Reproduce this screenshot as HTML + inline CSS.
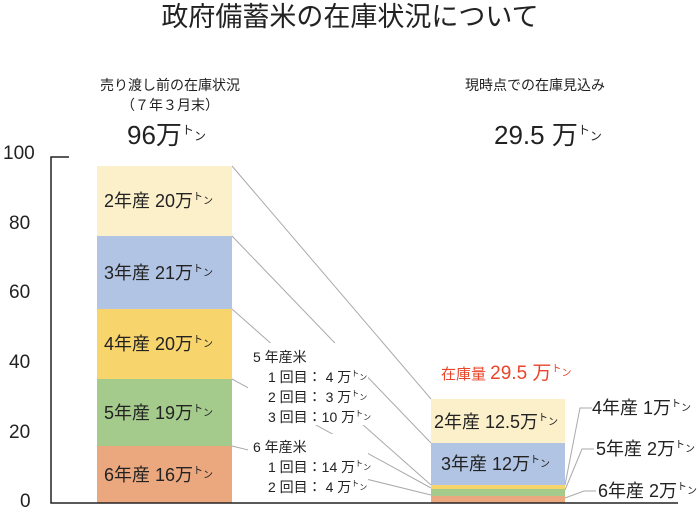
<!DOCTYPE html>
<html><head><meta charset="utf-8"><style>
body{margin:0;background:#fff;}
svg text{font-family:"Liberation Sans","Noto Sans CJK JP",sans-serif;fill:#222;}
</style></head><body>
<svg width="700" height="508" viewBox="0 0 700 508" xmlns="http://www.w3.org/2000/svg">
<text x="350" y="26" font-size="27" text-anchor="middle" fill="#222">政府備蓄米の在庫状況について</text>
<text x="170" y="90" font-size="14" text-anchor="middle">売り渡し前の在庫状況</text>
<text x="170" y="110" font-size="14" text-anchor="middle">（７年３月末）</text>
<text x="127" y="144" font-size="26">96万<tspan font-size="12" dy="-10">ト</tspan><tspan font-size="12" dy="6">ン</tspan></text>
<text x="535" y="90" font-size="14" text-anchor="middle">現時点での在庫見込み</text>
<text x="494" y="144" font-size="26">29.5 万<tspan font-size="12" dy="-10">ト</tspan><tspan font-size="12" dy="6">ン</tspan></text>
<g font-size="19">
<text x="3" y="159">100</text><text x="9" y="229">80</text><text x="9" y="298">60</text><text x="9" y="368">40</text><text x="9" y="438">20</text><text x="20" y="507">0</text>
</g>
<g stroke="#aaa" stroke-width="1">
<line x1="232" y1="166" x2="431" y2="399"/>
<line x1="232" y1="236" x2="431" y2="443"/>
<line x1="232" y1="309" x2="431" y2="485"/>
<line x1="232" y1="379" x2="431" y2="488"/>
<line x1="232" y1="446" x2="431" y2="495"/>
<polyline fill="none" points="565,485 580,408 592,408"/>
<polyline fill="none" points="565,490 582,449 594,449"/>
<polyline fill="none" points="565,498 584,491 596,491"/>
</g>
<rect x="97" y="166" width="135" height="70" fill="#fcf0cb"/>
<rect x="97" y="236" width="135" height="73" fill="#b1c4e3"/>
<rect x="97" y="309" width="135" height="70" fill="#f8d46c"/>
<rect x="97" y="379" width="135" height="67" fill="#a4cb8c"/>
<rect x="97" y="446" width="135" height="57" fill="#eba87f"/>
<rect x="431" y="399" width="134" height="44" fill="#fcf0cb"/>
<rect x="431" y="443" width="134" height="42" fill="#b1c4e3"/>
<rect x="431" y="485" width="134" height="4" fill="#f8d46c"/>
<rect x="431" y="489" width="134" height="7" fill="#a4cb8c"/>
<rect x="431" y="496" width="134" height="7" fill="#eba87f"/>
<polyline fill="none" stroke="#222" stroke-width="1.5" points="69,157 51,157 51,503 678,503"/>
<g font-size="18">
<text x="104" y="207">2年産 20万<tspan font-size="10" dy="-7">ト</tspan><tspan font-size="10" dy="4">ン</tspan></text>
<text x="104" y="279">3年産 21万<tspan font-size="10" dy="-7">ト</tspan><tspan font-size="10" dy="4">ン</tspan></text>
<text x="104" y="350">4年産 20万<tspan font-size="10" dy="-7">ト</tspan><tspan font-size="10" dy="4">ン</tspan></text>
<text x="104" y="419">5年産 19万<tspan font-size="10" dy="-7">ト</tspan><tspan font-size="10" dy="4">ン</tspan></text>
<text x="104" y="481">6年産 16万<tspan font-size="10" dy="-7">ト</tspan><tspan font-size="10" dy="4">ン</tspan></text>
<text x="434" y="428">2年産 12.5万<tspan font-size="10" dy="-7">ト</tspan><tspan font-size="10" dy="4">ン</tspan></text>
<text x="441" y="470">3年産 12万<tspan font-size="10" dy="-7">ト</tspan><tspan font-size="10" dy="4">ン</tspan></text>
<text x="592" y="414">4年産 1万<tspan font-size="10" dy="-7">ト</tspan><tspan font-size="10" dy="4">ン</tspan></text>
<text x="596" y="455">5年産 2万<tspan font-size="10" dy="-7">ト</tspan><tspan font-size="10" dy="4">ン</tspan></text>
<text x="598" y="497">6年産 2万<tspan font-size="10" dy="-7">ト</tspan><tspan font-size="10" dy="4">ン</tspan></text>
</g>
<text x="441" y="379" font-size="15" style="fill:#e8452a">在庫量 <tspan font-size="19">29.5 万</tspan><tspan font-size="10" dy="-7">ト</tspan><tspan font-size="10" dy="4">ン</tspan></text>
<rect x="248" y="343" width="120" height="82" fill="#fff"/>
<rect x="248" y="434" width="120" height="62" fill="#fff"/>
<g font-size="14">
<text x="253" y="362">5 年産米</text>
<text x="268" y="382">1 回目： 4 万<tspan font-size="8" dy="-6">ト</tspan><tspan font-size="8" dy="4">ン</tspan></text>
<text x="268" y="402">2 回目： 3 万<tspan font-size="8" dy="-6">ト</tspan><tspan font-size="8" dy="4">ン</tspan></text>
<text x="268" y="422">3 回目：10 万<tspan font-size="8" dy="-6">ト</tspan><tspan font-size="8" dy="4">ン</tspan></text>
<text x="253" y="452">6 年産米</text>
<text x="268" y="472">1 回目：14 万<tspan font-size="8" dy="-6">ト</tspan><tspan font-size="8" dy="4">ン</tspan></text>
<text x="268" y="492">2 回目： 4 万<tspan font-size="8" dy="-6">ト</tspan><tspan font-size="8" dy="4">ン</tspan></text>
</g>
</svg>
</body></html>
